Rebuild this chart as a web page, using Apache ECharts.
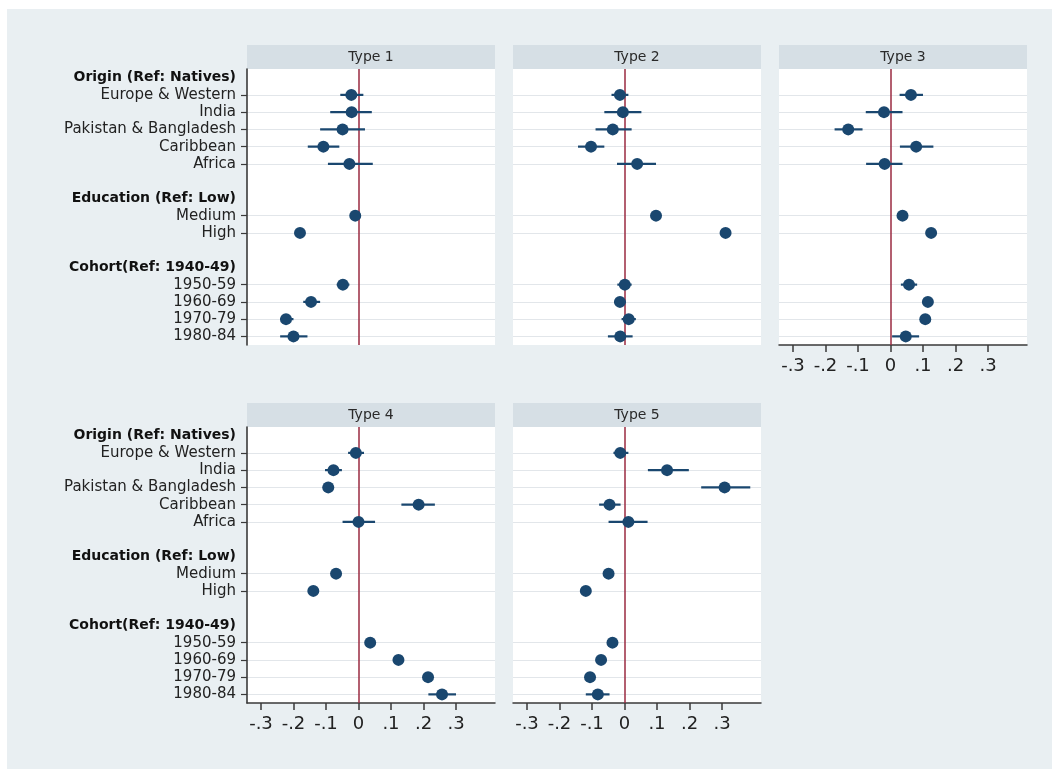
<!DOCTYPE html>
<html>
<head>
<meta charset="utf-8">
<script src="https://cdn.jsdelivr.net/npm/echarts@6/dist/echarts.min.js"></script>
<style>
  html, body { margin: 0; padding: 0; background: #ffffff; width: 1052px; height: 769px; overflow: hidden; }
  #chart { position: absolute; left: 7px; top: 9px; width: 1045px; height: 760px; }
</style>
</head>
<body>
<div id="chart"></div>
<script>
// Rows of the coefficient plot, top to bottom (group headings, estimates, spacer rows)
const categories = [
  'Origin (Ref: Natives)', 'Europe & Western', 'India', 'Pakistan & Bangladesh', 'Caribbean', 'Africa', ' ',
  'Education (Ref: Low)', 'Medium', 'High', '  ',
  'Cohort(Ref: 1940-49)', '1950-59', '1960-69', '1970-79', '1980-84'
];
const headingRows = ['Origin (Ref: Natives)', 'Education (Ref: Low)', 'Cohort(Ref: 1940-49)'];
const estimateRows = ['Europe & Western', 'India', 'Pakistan & Bangladesh', 'Caribbean', 'Africa',
  'Medium', 'High', '1950-59', '1960-69', '1970-79', '1980-84'];

const panelTitles = ['Type 1', 'Type 2', 'Type 3', 'Type 4', 'Type 5'];

// Point estimates and 95% confidence bounds, in estimateRows order
const type1Coef = [-0.022, -0.021, -0.049, -0.108, -0.028, -0.010, -0.180, -0.048, -0.146, -0.223, -0.200];
const type1Lo   = [-0.056, -0.087, -0.118, -0.156, -0.094, -0.020, -0.192, -0.067, -0.170, -0.241, -0.241];
const type1Hi   = [ 0.015,  0.041,  0.020, -0.059,  0.044,  0.007, -0.168, -0.028, -0.118, -0.200, -0.157];

const type2Coef = [-0.014, -0.005, -0.036, -0.103,  0.039,  0.097,  0.311,  0.001, -0.014,  0.013, -0.013];
const type2Lo   = [-0.040, -0.062, -0.089, -0.143, -0.023,  0.085,  0.298, -0.022, -0.032, -0.009, -0.051];
const type2Hi   = [ 0.012,  0.052,  0.022, -0.062,  0.097,  0.109,  0.325,  0.022,  0.004,  0.035,  0.025];

const type3Coef = [ 0.063, -0.020, -0.130,  0.079, -0.018,  0.037,  0.125,  0.057,  0.115,  0.107,  0.047];
const type3Lo   = [ 0.028, -0.076, -0.172,  0.029, -0.075,  0.027,  0.113,  0.032,  0.103,  0.095,  0.005];
const type3Hi   = [ 0.100,  0.037, -0.086,  0.132,  0.037,  0.047,  0.137,  0.082,  0.127,  0.119,  0.088];

const type4Coef = [-0.008, -0.077, -0.093,  0.185,  0.000, -0.069, -0.139,  0.036,  0.123,  0.214,  0.257];
const type4Lo   = [-0.032, -0.103, -0.110,  0.132, -0.049, -0.079, -0.150,  0.026,  0.112,  0.202,  0.215];
const type4Hi   = [ 0.017, -0.051, -0.076,  0.235,  0.051, -0.059, -0.128,  0.046,  0.134,  0.226,  0.300];

const type5Coef = [-0.013,  0.131,  0.308, -0.046,  0.012, -0.049, -0.119, -0.037, -0.072, -0.106, -0.082];
const type5Lo   = [-0.034,  0.072,  0.236, -0.078, -0.049, -0.059, -0.129, -0.053, -0.084, -0.118, -0.119];
const type5Hi   = [ 0.012,  0.198,  0.387, -0.012,  0.071, -0.039, -0.109, -0.021, -0.060, -0.094, -0.046];

// Labelled ticks on the x axes
const xTickValues = [-0.3, -0.2, -0.1, 0, 0.1, 0.2, 0.3];

// ---- styling / layout ----
const NAVY = '#1a476f';
const ZERO_LINE = '#9a2a40';
const AXIS_GREY = '#3a3a3a';
const TEXT = '#222222';
const FONT = 'DejaVu Sans';
const GRID_W = 248, GRID_H = 276, HEAD_H = 24;
const X_MIN = -0.343, X_MAX = 0.42;

const panels = [
  { title: panelTitles[0], coef: type1Coef, lo: type1Lo, hi: type1Hi, left: 240, top: 60,  yLabels: true,  xLabels: false },
  { title: panelTitles[1], coef: type2Coef, lo: type2Lo, hi: type2Hi, left: 506, top: 60,  yLabels: false, xLabels: false },
  { title: panelTitles[2], coef: type3Coef, lo: type3Lo, hi: type3Hi, left: 772, top: 60,  yLabels: false, xLabels: true  },
  { title: panelTitles[3], coef: type4Coef, lo: type4Lo, hi: type4Hi, left: 240, top: 418, yLabels: true,  xLabels: true  },
  { title: panelTitles[4], coef: type5Coef, lo: type5Lo, hi: type5Hi, left: 506, top: 418, yLabels: false, xLabels: true  }
];

const isEstimateRow = (idx, val) => estimateRows.indexOf(val) >= 0;

function formatTick(v) {
  if (Math.abs(v) < 1e-9) return '0';
  const d = Math.round(Math.abs(v) * 10);
  return (v < 0 ? '-.' : '.') + d;
}

const grid = [], xAxis = [], yAxis = [], series = [], graphics = [];

panels.forEach((p, i) => {
  grid.push({
    left: p.left, top: p.top, width: GRID_W, height: GRID_H,
    show: true, backgroundColor: '#ffffff', borderWidth: 0, containLabel: false
  });

  xAxis.push({
    type: 'value', gridIndex: i, min: X_MIN, max: X_MAX,
    show: p.xLabels,
    splitLine: { show: false },
    axisLine: { show: true, onZero: false, lineStyle: { color: AXIS_GREY, width: 1.5 } },
    axisTick: { show: true, customValues: xTickValues, length: 7, lineStyle: { color: AXIS_GREY, width: 1.5 } },
    axisLabel: {
      show: true, customValues: xTickValues, formatter: formatTick, margin: 12,
      fontFamily: FONT, fontSize: 18, color: TEXT
    }
  });

  yAxis.push({
    type: 'category', gridIndex: i, data: categories, inverse: true, boundaryGap: true,
    axisLine: { show: p.yLabels, onZero: false, lineStyle: { color: AXIS_GREY, width: 1.6 } },
    axisTick: { show: p.yLabels, interval: isEstimateRow, alignWithLabel: true, length: 6,
                lineStyle: { color: AXIS_GREY, width: 1.2 } },
    splitLine: { show: true, interval: isEstimateRow, alignWithLabel: true,
                 lineStyle: { color: '#e2e6ea', width: 1 } },
    axisLabel: {
      show: p.yLabels, interval: 0, margin: 11, color: TEXT,
      formatter: (val) => {
        if (headingRows.indexOf(val) >= 0) return '{h|' + val + '}';
        return '{n|' + val + '}';
      },
      rich: {
        h: { fontFamily: FONT, fontWeight: 'bold', fontSize: 14, color: '#111111' },
        n: { fontFamily: FONT, fontSize: 15, color: TEXT }
      }
    }
  });

  // confidence intervals: [lower, upper, row position on the category axis]
  const ciData = estimateRows.map((row, k) => [p.lo[k], p.hi[k], categories.indexOf(row)]);
  const ptData = estimateRows.map((row, k) => [p.coef[k], row]);

  series.push({
    type: 'custom', xAxisIndex: i, yAxisIndex: i, z: 2,
    dimensions: [
      { name: 'lo', type: 'float' },
      { name: 'hi', type: 'float' },
      { name: 'row', type: 'float' }
    ],
    encode: { x: ['lo', 'hi'], y: 'row' },
    data: ciData,
    renderItem: (params, api) => {
      const yv = api.value(2);
      const a = api.coord([api.value(0), yv]);
      const b = api.coord([api.value(1), yv]);
      return {
        type: 'line',
        shape: { x1: a[0], y1: a[1], x2: b[0], y2: b[1] },
        style: { stroke: NAVY, lineWidth: 2.2 }
      };
    }
  });

  series.push({
    type: 'scatter', xAxisIndex: i, yAxisIndex: i, z: 4,
    symbol: 'circle', symbolSize: 12,
    itemStyle: { color: NAVY, opacity: 1 },
    data: ptData,
    markLine: {
      silent: true, symbol: 'none', animation: false, z: 1,
      label: { show: false },
      lineStyle: { color: ZERO_LINE, width: 1.5, type: 'solid' },
      data: [{ xAxis: 0 }]
    }
  });

  // panel heading strip
  graphics.push({
    type: 'rect', silent: true,
    shape: { x: p.left, y: p.top - HEAD_H, width: GRID_W, height: HEAD_H },
    style: { fill: '#d6dfe5' }
  });
  graphics.push({
    type: 'text', silent: true,
    x: p.left + GRID_W / 2, y: p.top - HEAD_H / 2,
    style: { text: p.title, font: '14px "DejaVu Sans"', fill: '#2a2a2a', align: 'center', verticalAlign: 'middle' }
  });
});

const chart = echarts.init(document.getElementById('chart'), null, { renderer: 'canvas' });
chart.setOption({
  backgroundColor: '#e9eff2',
  animation: false,
  grid, xAxis, yAxis, series,
  graphic: graphics
});
</script>
</body>
</html>
